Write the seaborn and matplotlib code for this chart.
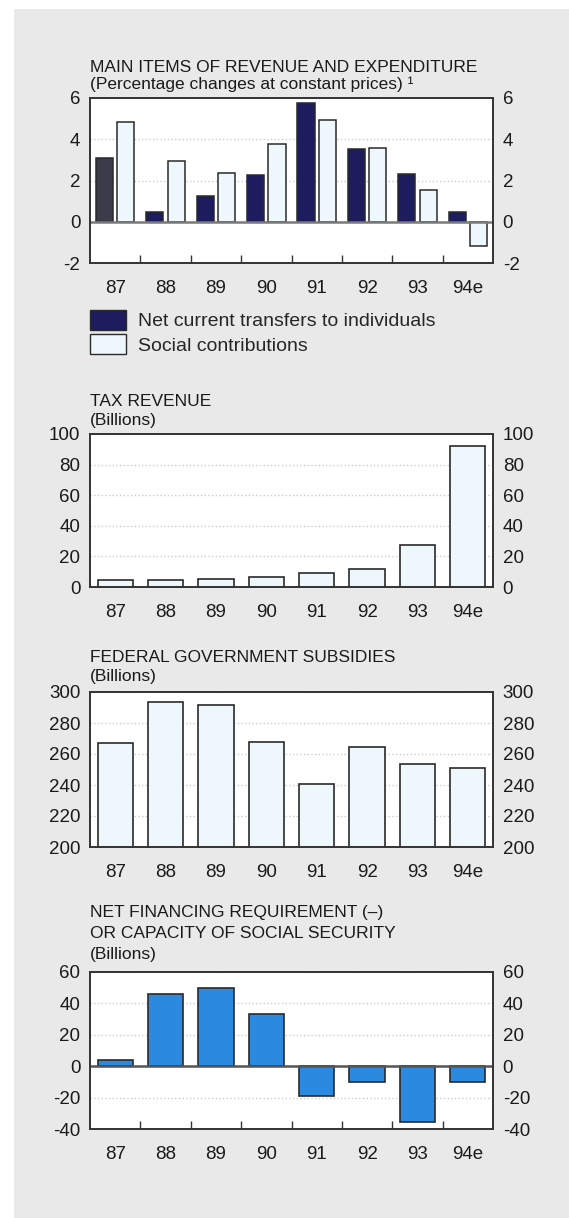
import pandas as pd
import seaborn as sns
import matplotlib.pyplot as plt
from matplotlib.patches import Patch, Rectangle
from matplotlib.ticker import FixedLocator

# values
years = ['87', '88', '89', '90', '91', '92', '93', '94e']
net_transfers = [3.1, 0.45, 1.27, 2.28, 5.76, 3.52, 2.33, 0.45]
social_contrib = [4.86, 2.94, 2.35, 3.77, 4.94, 3.6, 1.52, -1.17]
tax_revenue = [4.4, 4.8, 5.3, 6.6, 9.4, 11.8, 27.4, 92.1]
subsidies = [267.2, 293.7, 291.8, 267.8, 240.4, 264.8, 253.6, 251.0]
net_financing = [3.8, 46.0, 49.9, 33.0, -19.0, -10.1, -35.5, -10.1]

series_names = ['Net current transfers to individuals', 'Social contributions']

navy = '#1d1c5e'
light = '#eef8fc'
blue = '#2b8ae0'
edge = '#2a2a2a'

sns.set_theme(style='white')
plt.rcParams['font.family'] = ['Liberation Sans', 'DejaVu Sans']
plt.rcParams['axes.unicode_minus'] = False

fig = plt.figure(figsize=(5.69, 12.18), dpi=100, facecolor='white')
fig.patches.append(Rectangle((14 / 569, 0), 1, 1 - 9 / 1218, transform=fig.transFigure,
                             facecolor='#e9e9e9', edgecolor='none', zorder=-10))

W, H = 569, 1218
left, width = 90 / W, 403 / W


def make_axes(top_px, bottom_px):
    return fig.add_axes([left, 1 - bottom_px / H, width, (bottom_px - top_px) / H])


def style(ax, ylim, yticks, boundaries=False, zero=None):
    ax.set_facecolor('white')
    ax.set_ylim(*ylim)
    ax.set_xlim(-0.5, 7.5)
    ax.set_yticks(yticks)
    ax.set_xlabel('')
    ax.set_ylabel('')
    ax.yaxis.grid(True, linestyle=':', color='#cccccc', lw=1)
    ax.xaxis.grid(False)
    ax.set_axisbelow(True)
    for s in ax.spines.values():
        s.set_color('#333333')
        s.set_linewidth(1.4)
    ax.tick_params(axis='y', length=0, labelsize=13.5, pad=7, labelright=True,
                   labelcolor='#1a1a1a')
    ax.tick_params(axis='x', length=0, labelsize=13.5, pad=12, labelcolor='#1a1a1a')
    if boundaries:
        ax.xaxis.set_minor_locator(FixedLocator([i + 0.5 for i in range(7)]))
        ax.tick_params(axis='x', which='minor', direction='in', length=6, width=1,
                       color='#333333', bottom=True)
    if zero is not None:
        ax.axhline(0, color=zero, lw=1.8, zorder=1.5)


def titles(lines):
    for text, y in lines:
        fig.text(left, 1 - y / H, text, fontsize=12.5, va='center', ha='left', color='#1a1a1a')


# Panel 1
ax1 = make_axes(98, 263)
df1 = pd.DataFrame({
    'year': years * 2,
    'value': net_transfers + social_contrib,
    'series': [series_names[0]] * 8 + [series_names[1]] * 8,
})
sns.barplot(data=df1, x='year', y='value', hue='series', palette=[navy, light],
            saturation=1, width=0.85, gap=0.2, edgecolor=edge, linewidth=1.1,
            legend=False, ax=ax1)
ax1.containers[0].patches[0].set_facecolor('#3b3b4a')
style(ax1, (-2, 6), [-2, 0, 2, 4, 6], boundaries=True, zero='#7a7a7a')
titles([('MAIN ITEMS OF REVENUE AND EXPENDITURE', 67),
        ('(Percentage changes at constant prices) \u00b9', 84)])

handles = [Patch(facecolor=navy, edgecolor=edge, lw=1), Patch(facecolor=light, edgecolor=edge, lw=1)]
fig.legend(handles, series_names, loc='upper left', bbox_to_anchor=(left, 1 - 310 / H),
           frameon=False, fontsize=14, borderpad=0, borderaxespad=0, handlelength=1.85,
           handleheight=1.17, labelspacing=0.2, handletextpad=0.6)

# Panel 2
ax2 = make_axes(434, 587)
sns.barplot(x=years, y=tax_revenue, color=light, saturation=1, width=0.7,
            edgecolor=edge, linewidth=1.2, ax=ax2)
style(ax2, (0, 100), [0, 20, 40, 60, 80, 100])
titles([('TAX REVENUE', 401), ('(Billions)', 420)])

# Panel 3
ax3 = make_axes(692, 847)
sns.barplot(x=years, y=subsidies, color=light, saturation=1, width=0.7,
            edgecolor=edge, linewidth=1.2, ax=ax3)
style(ax3, (200, 300), [200, 220, 240, 260, 280, 300])
titles([('FEDERAL GOVERNMENT SUBSIDIES', 658), ('(Billions)', 677)])

# Panel 4
ax4 = make_axes(972, 1129)
sns.barplot(x=years, y=net_financing, color=blue, saturation=1, width=0.7,
            edgecolor=edge, linewidth=1.2, ax=ax4)
style(ax4, (-40, 60), [-40, -20, 0, 20, 40, 60], boundaries=True, zero='#555555')
titles([('NET FINANCING REQUIREMENT (\u2013)', 913),
        ('OR CAPACITY OF SOCIAL SECURITY', 934),
        ('(Billions)', 955)])

fig.savefig('out.png', dpi=100, facecolor=fig.get_facecolor())
